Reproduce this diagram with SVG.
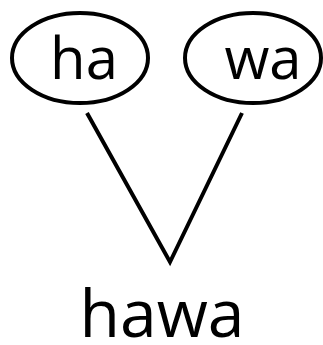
<svg xmlns="http://www.w3.org/2000/svg" width="323" height="345" viewBox="0 0 323 345">
<style>
.node{fill:#fff;stroke:#000;stroke-width:4}
.lbl{font-family:"Open Sans","DejaVu Sans",sans-serif;fill:#000;text-anchor:middle}
.edge{stroke:#000;stroke-width:4;fill:none;stroke-linejoin:miter}
</style>
<rect width="323" height="345" fill="#fff"/>
<g id="connectors">
<polyline class="edge" points="87,113 170,262 242,113"/>
</g>
<g id="node-ha">
<ellipse class="node" cx="80" cy="58" rx="68" ry="45"/>
<text class="lbl" x="84" y="79" font-size="58">ha</text>
</g>
<g id="node-wa">
<ellipse class="node" cx="253" cy="58" rx="68" ry="45"/>
<text class="lbl" x="263" y="79" font-size="58">wa</text>
</g>
<g id="node-hawa">
<text class="lbl" x="162" y="337" font-size="66">hawa</text>
</g>
</svg>
